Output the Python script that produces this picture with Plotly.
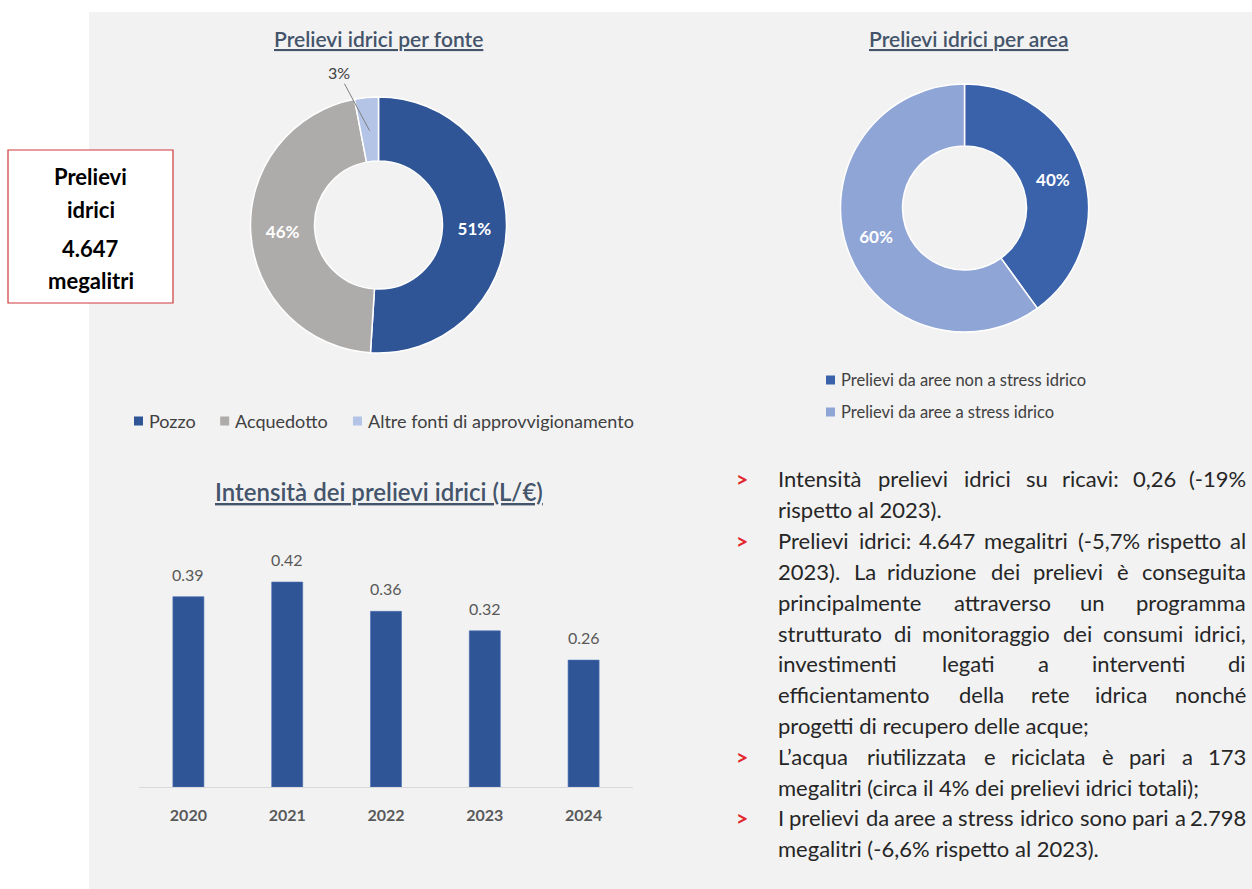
import math
import plotly.graph_objects as go

W, H = 1252, 889

# ---- data -------------------------------------------------------------
fonte_labels = ["Pozzo", "Acquedotto", "Altre fonti di approvvigionamento"]
fonte_values = [51, 46, 3]
fonte_colors = ["#2f5597", "#aeabab", "#b4c4e7"]

area_labels = ["Prelievi da aree non a stress idrico", "Prelievi da aree a stress idrico"]
area_values = [40, 60]
area_colors = ["#3a62ab", "#8fa5d6"]

anni = ["2020", "2021", "2022", "2023", "2024"]
intensita = [0.39, 0.42, 0.36, 0.32, 0.26]

box_lines = ["Prelievi", "idrici", "4.647", "megalitri"]

titolo_fonte = "Prelievi idrici per fonte"
titolo_area = "Prelievi idrici per area"
titolo_intensita = "Intensità dei prelievi idrici (L/€)"

# (starts a bullet, text, justified)
note_lines = [
    (True, "Intensità prelievi idrici su ricavi: 0,26 (-19%", True),
    (False, "rispetto al 2023).", False),
    (True, "Prelievi idrici: 4.647 megalitri (-5,7% rispetto al", True),
    (False, "2023). La riduzione dei prelievi è conseguita", True),
    (False, "principalmente attraverso un programma", True),
    (False, "strutturato di monitoraggio dei consumi idrici,", True),
    (False, "investimenti legati a interventi di", True),
    (False, "efficientamento della rete idrica nonché", True),
    (False, "progetti di recupero delle acque;", False),
    (True, "L’acqua riutilizzata e riciclata è pari a 173", True),
    (False, "megalitri (circa il 4% dei prelievi idrici totali);", False),
    (True, "I prelievi da aree a stress idrico sono pari a 2.798", True),
    (False, "megalitri (-6,6% rispetto al 2023).", False),
]

FONT = "Lato"
TITLE_COLOR = "#44546a"
TEXT_COLOR = "#262626"


def px(x):
    return x / W


def py(y):
    return 1 - y / H


# approximate advance widths (em) used to lay out justified lines and legends
CW = {" ": 0.193, "i": 0.23, "l": 0.23, "j": 0.23, "f": 0.31, "t": 0.33, "r": 0.35,
      "s": 0.41, "c": 0.45, "z": 0.43, "a": 0.48, "e": 0.51, "è": 0.51, "é": 0.51,
      "à": 0.48, "v": 0.48, "x": 0.47, "y": 0.48, "k": 0.48, "g": 0.5, "m": 0.82,
      "w": 0.74, "I": 0.26, "L": 0.44, "P": 0.56, ".": 0.2, ",": 0.2, ";": 0.21,
      ":": 0.21, "(": 0.3, ")": 0.3, "-": 0.34, "%": 0.64, "’": 0.2}


def text_width(s, size, k=1.04):
    w = 0.0
    for ch in s:
        if ch in CW:
            w += CW[ch]
        elif ch.isdigit():
            w += 0.56
        elif ch.isupper():
            w += 0.64
        else:
            w += 0.55
    return w * size * k


fig = go.Figure()

# panel background
fig.add_shape(type="rect", xref="paper", yref="paper", x0=px(89), x1=1, y0=0, y1=py(12),
              fillcolor="#f2f2f2", line=dict(width=0), layer="below")

# ---- donut: per fonte ---------------------------------------------------
C1 = (378.5, 225.0)
R1 = 128.0
fig.add_trace(go.Pie(
    labels=fonte_labels, values=fonte_values, hole=0.5, sort=False,
    direction="clockwise", rotation=0,
    marker=dict(colors=fonte_colors, line=dict(color="white", width=1.5)),
    texttemplate="%{percent:.0%}",
    textposition=["inside", "inside", "none"],
    insidetextorientation="horizontal",
    textfont=dict(family=FONT, size=17, color="white", weight="bold"),
    domain=dict(x=[px(C1[0] - R1), px(C1[0] + R1)], y=[py(C1[1] + R1), py(C1[1] - R1)]),
    hoverinfo="label+percent", showlegend=False,
))

# leader label for the smallest slice, placed from its mid angle
tot = sum(fonte_values)
start = sum(fonte_values[:2]) / tot * 360
mid = math.radians(start + fonte_values[2] / tot * 360 / 2)
rr = 0.74 * R1
tip = (C1[0] + rr * math.sin(mid), C1[1] - rr * math.cos(mid))
fig.add_annotation(
    x=px(tip[0]), y=py(tip[1]), xref="paper", yref="paper",
    text=f"{fonte_values[2] / tot:.0%}", showarrow=True, arrowhead=0,
    arrowwidth=1, arrowcolor="#7f7f7f", ax=-31, ay=-58, standoff=0,
    font=dict(family=FONT, size=16, color="#404040"),
)

# ---- donut: per area ----------------------------------------------------
C2 = (964.5, 208.0)
R2 = 124.0
fig.add_trace(go.Pie(
    labels=area_labels, values=area_values, hole=0.5, sort=False,
    direction="clockwise", rotation=0,
    marker=dict(colors=area_colors, line=dict(color="white", width=1.5)),
    texttemplate="%{percent:.0%}", textposition="inside",
    insidetextorientation="horizontal",
    textfont=dict(family=FONT, size=17, color="white", weight="bold"),
    domain=dict(x=[px(C2[0] - R2), px(C2[0] + R2)], y=[py(C2[1] + R2), py(C2[1] - R2)]),
    hoverinfo="label+percent", showlegend=False,
))

# ---- bar chart ------------------------------------------------------------
BAR_COLOR = "#2f5597"
fig.add_trace(go.Bar(
    x=anni, y=intensita, marker=dict(color=BAR_COLOR, line=dict(color="#4a6fb5", width=0.6)),
    hoverinfo="x+y", showlegend=False,
))
# value labels: positioned by category index on the category axis
for i, v in enumerate(intensita):
    fig.add_annotation(
        x=i, y=v, xref="x", yref="y", text=f"{v:.2f}", showarrow=False,
        yanchor="bottom", yshift=11,
        font=dict(family=FONT, size=16, color="#595959"),
    )

# ---- titles ---------------------------------------------------------------
for txt, cx, cy, size in [(titolo_fonte, 378, 38, 21), (titolo_area, 968, 38, 21),
                          (titolo_intensita, 379, 491, 24)]:
    fig.add_annotation(
        x=px(cx), y=py(cy), xref="paper", yref="paper", text=txt, showarrow=False,
        xanchor="center", yanchor="middle",
        font=dict(family=FONT, size=size, color=TITLE_COLOR, weight=600, lineposition="under"),
    )

# ---- legends ----------------------------------------------------------------
SQ = 9


def legend_item(x, y, color, label, size):
    fig.add_shape(type="rect", xref="paper", yref="paper",
                  x0=px(x), x1=px(x + SQ), y0=py(y + SQ / 2), y1=py(y - SQ / 2),
                  fillcolor=color, line=dict(width=0))
    fig.add_annotation(x=px(x + SQ + 5), y=py(y), xref="paper", yref="paper", text=label,
                       showarrow=False, xanchor="left", yanchor="middle",
                       font=dict(family=FONT, size=size, color="#404040"), borderpad=0)
    return x + SQ + 5 + text_width(label, size)


lx = 134
for lab, col in zip(fonte_labels, fonte_colors):
    lx = legend_item(lx, 421, col, lab, 18) + 25

for i, (lab, col) in enumerate(zip(area_labels, area_colors)):
    legend_item(826, 380 + 32 * i, col, lab, 16.5)

# ---- KPI box -------------------------------------------------------------
fig.add_shape(type="rect", xref="paper", yref="paper", x0=px(8), x1=px(173),
              y0=py(303), y1=py(150), fillcolor="white", line=dict(color="#d0393b", width=1.2))
for txt, yy in zip(box_lines, [176, 209, 248, 280]):
    fig.add_annotation(x=px(90.5), y=py(yy), xref="paper", yref="paper", text=txt,
                       showarrow=False, xanchor="center", yanchor="middle",
                       font=dict(family=FONT, size=22, color="black", weight="bold"))

# ---- notes (justified lines are laid out word by word) ---------------------
NOTE_SIZE = 22
X0, X1 = 777, 1247
Y0, DY = 479, 30.8
for k, (bullet, line, justify) in enumerate(note_lines):
    yy = Y0 + k * DY
    if bullet:
        fig.add_annotation(x=px(735), y=py(yy), xref="paper", yref="paper", text=">",
                           showarrow=False, xanchor="left", yanchor="middle", borderpad=0,
                           font=dict(family=FONT, size=21, color="#e3262b", weight="bold"))
    if not justify:
        fig.add_annotation(x=px(X0), y=py(yy), xref="paper", yref="paper", text=line,
                           showarrow=False, xanchor="left", yanchor="middle", borderpad=0,
                           font=dict(family=FONT, size=NOTE_SIZE, color=TEXT_COLOR))
        continue
    words = line.split(" ")
    widths = [text_width(w, NOTE_SIZE, 1.07) for w in words]
    gap = (X1 - X0 - sum(widths)) / (len(words) - 1)
    xx = X0
    for j, (wd, ww) in enumerate(zip(words, widths)):
        last = j == len(words) - 1
        fig.add_annotation(x=px(X1 if last else xx), y=py(yy), xref="paper", yref="paper",
                           text=wd, showarrow=False, xanchor="right" if last else "left",
                           yanchor="middle", borderpad=0,
                           font=dict(family=FONT, size=NOTE_SIZE, color=TEXT_COLOR))
        xx += ww + gap

# ---- layout ----------------------------------------------------------------
fig.update_layout(
    width=W, height=H, margin=dict(l=0, r=0, t=0, b=0, autoexpand=False),
    paper_bgcolor="white", plot_bgcolor="rgba(0,0,0,0)",
    bargap=0.686, showlegend=False,
    xaxis=dict(type="category", range=[-0.5, len(anni) - 0.5], domain=[px(139), px(633)],
               showgrid=False, zeroline=False,
               showline=True, linecolor="#d9d9d9", linewidth=1.2, ticks="",
               ticklabelstandoff=14, automargin=False,
               tickfont=dict(family=FONT, size=16, color="#595959", weight="bold"),
               fixedrange=True),
    yaxis=dict(domain=[py(787), py(543)], range=[0, 0.5], visible=False,
               automargin=False, fixedrange=True),
)

fig.write_html("out.html")
